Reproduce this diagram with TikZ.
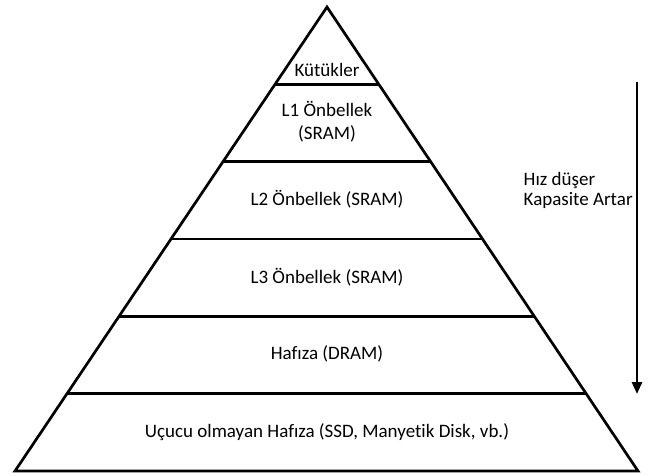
\documentclass[tikz,border=0pt]{standalone}
\usepackage{fontspec}
\setmainfont{Carlito}[Ligatures=NoCommon]
\usetikzlibrary{calc,arrows.meta}

\begin{document}
\begin{tikzpicture}[x=1pt,y=-1pt,line width=2.7pt,
    layer/.style={font=\fontsize{19}{23.5}\selectfont,align=center}]
        \useasboundingbox (0,0) rectangle (656,476);

        \coordinate (T) at (327,7);
        \coordinate (BL) at (15,471);
        \coordinate (BR) at (638,471);

        \draw[line join=miter] (BL) -- (T) -- (BR) -- cycle;
        \foreach \k in {1,...,5} {
            \coordinate (L\k) at ($(T)!\k/6!(BL)$);
            \coordinate (R\k) at ($(T)!\k/6!(BR)$);
            \draw (L\k) -- (R\k);
        }

        \node[layer] (reg) at (327,70) {Kütükler};
        \node[layer] (l1) at (327,121.5) {L1 Önbellek\\(SRAM)};
        \node[layer] (l2) at (327,199) {L2 Önbellek (SRAM)};
        \node[layer] (l3) at (327,277) {L3 Önbellek (SRAM)};
        \node[layer] (ram) at (327,354) {Hafıza (DRAM)};
        \node[layer] (disk) at (327,432) {Uçucu olmayan Hafıza (SSD, Manyetik Disk, vb.)};

        \coordinate (top) at (637,82);
        \coordinate (bot) at (637,394);
        \draw[-{Triangle[length=12pt,width=10pt]}] (top) -- (bot);
        \node[anchor=west,align=left,font=\fontsize{19}{20}\selectfont] (note) at (519,190)
            {Hız düşer\\Kapasite Artar};

    \end{tikzpicture}
\end{document}
